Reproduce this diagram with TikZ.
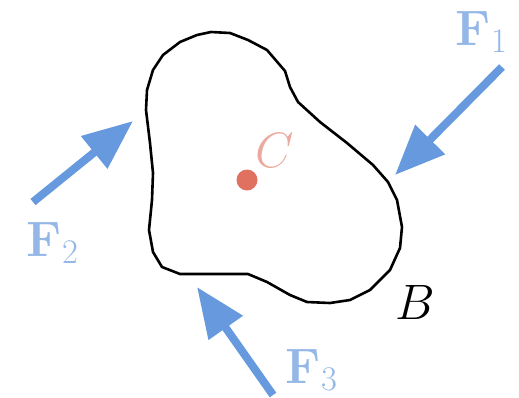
\documentclass[tikz,border=0pt]{standalone}
\usetikzlibrary{arrows.meta}
\definecolor{forceblue}{HTML}{6699DD}
\definecolor{dotred}{HTML}{E07060}
\begin{document}
\begin{tikzpicture}[x=0.5pt,y=-0.5pt,
  force/.style={line width=4pt,forceblue,-{Triangle[length=25pt,width=20pt]}},
  flabel/.style={text=forceblue,text opacity=0.7,font=\fontsize{24}{28}\selectfont},
  every node/.style={inner sep=0pt}]
\useasboundingbox (0,0) rectangle (519,397);
% body B
\draw[line width=1.3pt,line join=round] (211,32) -- (230,33) -- (248,40) -- (267,50) -- (285,71)
  -- (290,87) -- (298,102) -- (320,122) -- (347,143) -- (373,165) -- (388,182) -- (397,200)
  -- (402,227) -- (400,248) -- (390,270) -- (370,290) -- (350,300) -- (330,303) -- (307,302)
  -- (290,295) -- (267,282) -- (248,274) -- (207,274) -- (180,274) -- (162,267) -- (153,252)
  -- (149,230) -- (152,200) -- (153,173) -- (150,143) -- (146,110) -- (147,90) -- (153,70)
  -- (163,55) -- (180,42) -- (197,35) -- cycle;
\node[font=\fontsize{24}{28}\selectfont] (B) at (415,302) {$B$};
% centre C
\node[circle,fill=dotred,minimum size=10.5pt] (dot) at (247,180) {};
\node[text=dotred,text opacity=0.6,font=\fontsize{24}{28}\selectfont] (C) at (275,150) {$C$};
% forces
\coordinate (s1) at (502,67);  \coordinate (t1) at (395,175);
\coordinate (s2) at (33,202);  \coordinate (t2) at (133,121);
\coordinate (s3) at (273,395); \coordinate (t3) at (197,287);
\foreach \i in {1,2,3} {
  \draw[force] (s\i) -- (t\i);
}
\node[flabel] (F1) at (482,32) {$\mathbf{F}_1$};
\node[flabel] (F2) at (53,243) {$\mathbf{F}_2$};
\node[flabel] (F3) at (312,370) {$\mathbf{F}_3$};
\end{tikzpicture}
\end{document}
